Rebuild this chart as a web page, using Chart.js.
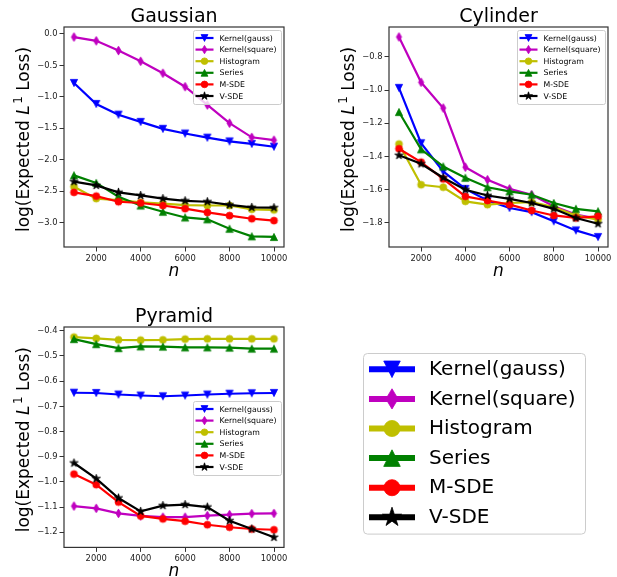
<!DOCTYPE html>
<html>
<head>
<meta charset="UTF-8">
<title>Expected L1 loss</title>
<script src="https://cdn.jsdelivr.net/npm/chart.js@4.4.0/dist/chart.umd.min.js"></script>
<style>
  body { margin: 0; background: #fff; overflow: hidden; width: 617px; height: 577px; position: relative; }
  canvas { position: absolute; }
</style>
</head>
<body>
<canvas id="gauss" width="300" height="290" style="left:0;top:0"></canvas>
<canvas id="cyl" width="320" height="290" style="left:310px;top:0"></canvas>
<canvas id="pyr" width="300" height="287" style="left:0;top:290px"></canvas>
<canvas id="leg" width="307" height="287" style="left:310px;top:290px"></canvas>
<script>
const nValues = [1000, 2000, 3000, 4000, 5000, 6000, 7000, 8000, 9000, 10000];
const xTicks = [2000, 4000, 6000, 8000, 10000];
const methods = ["Kernel(gauss)", "Kernel(square)", "Histogram", "Series", "M-SDE", "V-SDE"];

// Gaussian
const gaussKernelGauss  = [-0.78, -1.115, -1.285, -1.40, -1.51, -1.585, -1.65, -1.71, -1.75, -1.795];
const gaussKernelSquare = [-0.05, -0.11, -0.265, -0.435, -0.625, -0.84, -1.13, -1.42, -1.645, -1.69];
const gaussHistogram    = [-2.43, -2.62, -2.645, -2.68, -2.70, -2.725, -2.73, -2.73, -2.79, -2.80];
const gaussSeries       = [-2.25, -2.37, -2.59, -2.73, -2.83, -2.92, -2.95, -3.10, -3.22, -3.23];
const gaussMSDE         = [-2.52, -2.58, -2.67, -2.69, -2.73, -2.78, -2.84, -2.89, -2.94, -2.97];
const gaussVSDE         = [-2.35, -2.41, -2.52, -2.57, -2.62, -2.655, -2.67, -2.72, -2.76, -2.765];
const gaussYTicks = [0, -0.5, -1.0, -1.5, -2.0, -2.5, -3.0];

// Cylinder
const cylKernelGauss  = [-0.987, -1.32, -1.49, -1.595, -1.665, -1.71, -1.735, -1.79, -1.845, -1.885];
const cylKernelSquare = [-0.68, -0.953, -1.108, -1.464, -1.54, -1.595, -1.63, -1.70, -1.75, -1.775];
const cylHistogram    = [-1.325, -1.57, -1.585, -1.67, -1.69, -1.68, -1.675, -1.705, -1.755, -1.78];
const cylSeries       = [-1.132, -1.357, -1.46, -1.528, -1.585, -1.61, -1.63, -1.68, -1.715, -1.73];
const cylMSDE         = [-1.353, -1.434, -1.535, -1.64, -1.665, -1.69, -1.725, -1.755, -1.77, -1.76];
const cylVSDE         = [-1.393, -1.444, -1.528, -1.60, -1.635, -1.655, -1.68, -1.715, -1.77, -1.805];
const cylYTicks = [-0.8, -1.0, -1.2, -1.4, -1.6, -1.8];

// Pyramid
const pyrKernelGauss  = [-0.646, -0.647, -0.653, -0.657, -0.66, -0.657, -0.653, -0.65, -0.648, -0.647];
const pyrKernelSquare = [-1.096, -1.105, -1.125, -1.135, -1.14, -1.14, -1.134, -1.13, -1.126, -1.125];
const pyrHistogram    = [-0.425, -0.43, -0.436, -0.437, -0.436, -0.433, -0.432, -0.432, -0.432, -0.432];
const pyrSeries       = [-0.433, -0.453, -0.469, -0.462, -0.463, -0.466, -0.466, -0.467, -0.471, -0.471];
const pyrMSDE         = [-0.969, -1.011, -1.08, -1.135, -1.147, -1.156, -1.17, -1.18, -1.187, -1.19];
const pyrVSDE         = [-0.925, -0.987, -1.064, -1.117, -1.094, -1.09, -1.10, -1.154, -1.187, -1.22];
const pyrYTicks = [-0.4, -0.5, -0.6, -0.7, -0.8, -0.9, -1.0, -1.1, -1.2];

const colors = ["#0000ff", "#bf00bf", "#bfbf00", "#008000", "#ff0000", "#000000"];
const shapes = ["down", "diamond", "circle", "up", "circle", "star"];
const markerR = [3.6, 4.4, 3.5, 3.6, 3.5, 4.4];
const FONT = "DejaVu Sans";

Chart.defaults.font.family = FONT;
Chart.defaults.color = "#000";

function markerPath(ctx, shape, x, y, r) {
  ctx.beginPath();
  if (shape === "circle") {
    ctx.arc(x, y, r, 0, Math.PI * 2);
  } else if (shape === "down") {
    ctx.moveTo(x, y + r); ctx.lineTo(x - r, y - r); ctx.lineTo(x + r, y - r);
  } else if (shape === "up") {
    ctx.moveTo(x, y - r); ctx.lineTo(x - r, y + r); ctx.lineTo(x + r, y + r);
  } else if (shape === "diamond") {
    ctx.moveTo(x, y - r); ctx.lineTo(x + r * 0.6, y); ctx.lineTo(x, y + r); ctx.lineTo(x - r * 0.6, y);
  } else if (shape === "star") {
    for (let i = 0; i < 10; i++) {
      const a = -Math.PI / 2 + i * Math.PI / 5;
      const rr = i % 2 ? r * 0.382 : r;
      ctx.lineTo(x + rr * Math.cos(a), y + rr * Math.sin(a));
    }
  }
  ctx.closePath();
}

function drawMarker(ctx, shape, x, y, r, color) {
  markerPath(ctx, shape, x, y, r);
  ctx.fillStyle = color;
  ctx.fill();
  ctx.lineWidth = 0.8;
  ctx.strokeStyle = color;
  ctx.stroke();
}

function markerImg(shape, color, r) {
  const c = document.createElement("canvas");
  const s = Math.ceil(r * 2 + 4);
  c.width = s; c.height = s;
  drawMarker(c.getContext("2d"), shape, s / 2, s / 2, r, color);
  return c;
}

function fmt(v, d) {
  const s = Math.abs(v).toFixed(d);
  return (v < -1e-9 ? "\u2212" : "") + s;
}

function drawLegend(ctx, x, y, o) {
  const w = o.w, h = o.pitch * methods.length + o.pad * 2;
  ctx.save();
  ctx.beginPath();
  ctx.roundRect(x + 0.5, y + 0.5, w, h, o.radius);
  ctx.fillStyle = "rgba(255,255,255,0.8)";
  ctx.fill();
  ctx.strokeStyle = "#cccccc";
  ctx.lineWidth = 1;
  ctx.stroke();
  ctx.font = o.font + "px " + FONT;
  ctx.textBaseline = "middle";
  methods.forEach((m, i) => {
    const cy = y + o.pad + o.pitch * (i + 0.5);
    ctx.strokeStyle = colors[i];
    ctx.lineWidth = o.lw;
    ctx.beginPath();
    ctx.moveTo(x + o.lineX, cy);
    ctx.lineTo(x + o.lineX + o.lineLen, cy);
    ctx.stroke();
    drawMarker(ctx, shapes[i], x + o.lineX + o.lineLen / 2, cy, markerR[i] * o.ms, colors[i]);
    ctx.fillStyle = "#000";
    ctx.fillText(m, x + o.textX, cy + 0.5);
  });
  ctx.restore();
}

const smallLegend = { w: 88, pitch: 11.6, pad: 2.2, radius: 2, font: 7.8, lw: 2.2, lineX: 2.5, lineLen: 18, textX: 26.5, ms: 0.95 };

const decor = {
  id: "decor",
  afterDatasetsDraw(chart) {
    const { ctx, chartArea: a } = chart;
    ctx.save();
    ctx.strokeStyle = "#333";
    ctx.lineWidth = 1.2;
    ctx.strokeRect(a.left, a.top, a.right - a.left, a.bottom - a.top);
    ctx.restore();
  },
  afterDraw(chart, args, opts) {
    const { ctx, chartArea: a } = chart;
    ctx.save();
    ctx.fillStyle = "#000";
    ctx.textAlign = "center";
    ctx.textBaseline = "alphabetic";
    // title, centred on the axes
    ctx.font = "19px " + FONT;
    ctx.fillText(opts.title, (a.left + a.right) / 2, a.top - 5);
    // x axis label
    ctx.font = "italic 17px " + FONT;
    ctx.fillText("n", (a.left + a.right) / 2, a.bottom + 28.5);
    // y axis label with italic L and superscript 1
    const parts = [
      ["log(Expected ", "17px " + FONT, 0, 0],
      ["L", "italic 17px " + FONT, 0, 1.5],
      ["1", "12px " + FONT, -7, 0],
      [" Loss)", "17px " + FONT, 0, 0]
    ];
    let total = 0;
    parts.forEach(p => { ctx.font = p[1]; p.w = ctx.measureText(p[0]).width + p[3]; total += p.w; });
    ctx.translate(a.left - 35, (a.top + a.bottom) / 2 + 2.5);
    ctx.rotate(-Math.PI / 2);
    ctx.textAlign = "left";
    let x = -total / 2;
    parts.forEach(p => { ctx.font = p[1]; ctx.fillText(p[0], x, p[2]); x += p.w; });
    ctx.restore();
    drawLegend(ctx, a.right - 91, a.top + opts.legendTop, smallLegend);
  }
};

function makeChart(id, title, series, yMin, yMax, yTicks, box) {
  return new Chart(document.getElementById(id), {
    type: "line",
    data: {
      datasets: methods.map((m, i) => ({
        label: m,
        data: nValues.map((n, j) => ({ x: n, y: series[i][j] })),
        borderColor: colors[i],
        backgroundColor: colors[i],
        borderWidth: 2.2,
        pointStyle: markerImg(shapes[i], colors[i], markerR[i]),
        pointRadius: 4,
        tension: 0,
        order: methods.length - i
      }))
    },
    options: {
      responsive: false,
      animation: false,
      events: [],
      layout: { padding: { left: 0, right: box.padRight, top: box.top, bottom: 0 } },
      scales: {
        x: {
          type: "linear",
          min: 550,
          max: 10450,
          afterBuildTicks: s => { s.ticks = xTicks.map(v => ({ value: v })); },
          afterFit: s => { s.height = box.xHeight; },
          ticks: { autoSkip: false, maxRotation: 0, padding: 2, color: "#222", font: { size: 8.4 }, callback: v => String(v) },
          grid: { drawOnChartArea: false, tickLength: 4.5, color: "#333" },
          border: { display: false }
        },
        y: {
          min: yMin,
          max: yMax,
          afterBuildTicks: s => { s.ticks = yTicks.map(v => ({ value: v })); },
          afterFit: s => { s.width = box.yWidth; },
          ticks: { autoSkip: false, padding: 2, color: "#222", font: { size: 8.4 }, callback: v => fmt(v, 1) },
          grid: { drawOnChartArea: false, tickLength: 4.5, color: "#333" },
          border: { display: false }
        }
      },
      plugins: {
        legend: { display: false },
        tooltip: { enabled: false },
        title: { display: false },
        decor: { title: title, legendTop: box.legendTop }
      }
    },
    plugins: [decor]
  });
}

makeChart("gauss", "Gaussian",
  [gaussKernelGauss, gaussKernelSquare, gaussHistogram, gaussSeries, gaussMSDE, gaussVSDE],
  -3.39, 0.11, gaussYTicks,
  { top: 27, padRight: 16, xHeight: 43, yWidth: 64, legendTop: 3 });

makeChart("cyl", "Cylinder",
  [cylKernelGauss, cylKernelSquare, cylHistogram, cylSeries, cylMSDE, cylVSDE],
  -1.945, -0.62, cylYTicks,
  { top: 27, padRight: 22, xHeight: 43, yWidth: 79, legendTop: 3 });

makeChart("pyr", "Pyramid",
  [pyrKernelGauss, pyrKernelSquare, pyrHistogram, pyrSeries, pyrMSDE, pyrVSDE],
  -1.26, -0.385, pyrYTicks,
  { top: 37, padRight: 16, xHeight: 29.6, yWidth: 64, legendTop: 74 });

// standalone big legend in the fourth panel
const lctx = document.getElementById("leg").getContext("2d");
drawLegend(lctx, 53, 63, { w: 222, pitch: 29.6, pad: 1.5, radius: 4, font: 20, lw: 6, lineX: 6, lineLen: 46, textX: 66, ms: 2.3 });
</script>
</body>
</html>
